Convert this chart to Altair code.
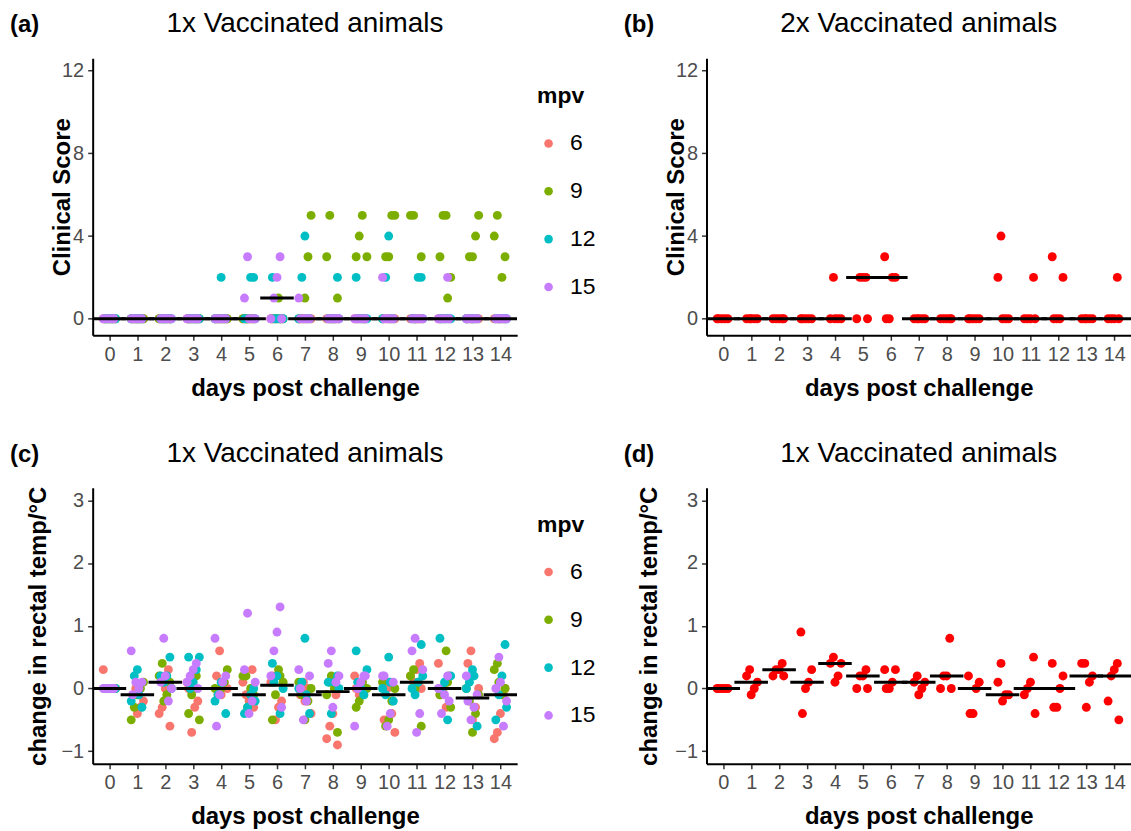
import altair as alt
import pandas as pd

DAYS = list(range(15))
GROUPS = ["6", "9", "12", "15"]
COLORS = ["#F8766D", "#7CAE00", "#00BFC4", "#C77CFF"]

# ---- (a) clinical score, 1x vaccinated: non-zero scores per day (rest of the 5 animals are 0)
SCORE_1X_NONZERO = {
    "6":  {},
    "9":  {6: [1], 7: [5, 3, 1], 8: [5, 3, 1], 9: [5, 4, 3, 3], 10: [5, 5, 3, 3],
           11: [5, 5, 3], 12: [5, 5, 3, 2, 1], 13: [5, 4, 3, 3], 14: [5, 4, 3, 2]},
    "12": {4: [2], 5: [2, 2], 6: [2], 7: [4, 2], 8: [2], 9: [2], 10: [4, 2], 11: [2, 2]},
    "15": {5: [3, 1], 6: [3, 2, 1], 7: [1], 10: [2], 12: [2]},
}
MEDIAN_A = [0, 0, 0, 0, 0, 0, 1, 0, 0, 0, 0, 0, 0, 0, 0]

# ---- (b) clinical score, 2x vaccinated (5 animals per day)
SCORE_2X = [
    [0, 0, 0, 0, 0], [0, 0, 0, 0, 0], [0, 0, 0, 0, 0], [0, 0, 0, 0, 0],
    [2, 0, 0, 0, 0], [2, 2, 2, 0, 0], [3, 2, 2, 0, 0], [0, 0, 0, 0, 0],
    [0, 0, 0, 0, 0], [0, 0, 0, 0, 0], [4, 2, 0, 0, 0], [2, 0, 0, 0, 0],
    [3, 2, 0, 0, 0], [0, 0, 0, 0, 0], [2, 0, 0, 0, 0],
]
MEDIAN_B = [0, 0, 0, 0, 0, 2, 2, 0, 0, 0, 0, 0, 0, 0, 0]

# ---- (c) change in rectal temperature, 1x vaccinated, per mpv group (5 animals per day)
TEMP_1X = {
    "6": [
        [0.3, 0, 0, 0, 0], [0, -0.1, -0.2, -0.3, -0.4], [0.3, 0, -0.3, -0.4, -0.6],
        [0.1, -0.2, -0.3, -0.7, 0], [0.6, 0.2, 0, 0.1, -0.1], [0.3, -0.2, -0.1, 0.1, -0.3],
        [0.1, -0.2, -0.3, -0.5, 0.2], [0.1, -0.1, -0.4, 0, -0.2], [-0.1, -0.4, -0.6, -0.8, -0.9],
        [0.2, 0, 0.1, -0.1, 0], [0, -0.5, -0.7, -0.4, 0.1], [0.4, 0.3, 0.1, 0.2, 0],
        [0.4, 0.2, -0.3, 0, -0.1], [0.6, 0.4, 0, -0.3, -0.5], [-0.1, -0.4, -0.7, -0.8, 0],
    ],
    "9": [
        [0, 0, 0, 0, 0], [0.1, 0, -0.1, -0.3, -0.5], [0.4, 0.2, 0.1, -0.1, -0.2],
        [0, -0.1, -0.4, -0.5, 0.2], [0.3, 0.1, 0, -0.1, 0], [0.2, 0.2, -0.1, 0, -0.3],
        [0.3, -0.1, -0.5, 0.1, 0.2], [0, -0.2, -0.5, -0.1, 0.1], [0.1, -0.1, -0.7, 0, 0.2],
        [0.1, -0.2, -0.3, 0, -0.1], [0, -0.2, -0.5, -0.6, 0.1], [0.3, 0.2, -0.6, 0.1, 0],
        [0.6, 0, -0.1, -0.3, 0.1], [-0.1, -0.4, -0.7, -0.2, 0], [0.4, 0.3, 0, -0.1, 0.1],
    ],
    "12": [
        [0, 0, 0, 0, 0], [0.3, 0.2, -0.2, -0.3, -0.1], [0.5, 0.2, 0.1, 0.2, 0],
        [0.5, 0.5, 0.3, 0.1, 0], [0.1, -0.1, -0.2, -0.4, 0.1], [0, -0.1, -0.3, -0.4, -0.2],
        [0.4, 0, -0.4, 0.2, 0.1], [0.8, 0.1, 0, -0.4, -0.1], [0.2, 0.1, -0.4, 0.1, 0],
        [0.6, 0.3, -0.1, 0, 0.1], [0.5, -0.1, 0, -0.2, 0.1], [0.7, 0.1, -0.1, 0, 0.2],
        [0.8, 0.2, -0.5, 0.1, 0], [0.3, 0.1, 0, -0.6, 0.2], [0.7, 0.2, -0.1, -0.5, -0.3],
    ],
    "15": [
        [0, 0, 0, 0, 0], [0.6, 0.1, 0, 0.1, -0.1], [0.8, 0.1, 0, -0.2, 0.2],
        [0.4, 0.3, 0.2, 0.1, 0], [0.8, 0.2, 0.1, -0.1, -0.6], [1.2, 0.3, 0.1, -0.2, -0.4],
        [1.3, 0.9, 0.6, 0.2, -0.3], [0.3, 0.2, -0.2, -0.5, 0], [0.6, 0.4, 0.2, 0.1, -0.3],
        [0.2, 0.1, 0, -0.6, 0.2], [0.2, 0.1, -0.4, -0.6, 0.2], [0.8, 0.6, 0.3, -0.4, -0.7],
        [0.2, -0.1, -0.4, 0, -0.2], [0.2, -0.1, -0.3, -0.5, -0.2], [0.5, 0, -0.2, -0.6, 0.1],
    ],
}
MEDIAN_C = [0, -0.1, 0.1, 0, 0, -0.1, 0.05, -0.1, -0.05, 0, -0.1, 0.1, 0, -0.15, -0.1]

# ---- (d) change in rectal temperature (5 animals per day)
TEMP_2X = [
    [0, 0, 0, 0, 0], [0.3, 0.2, 0.1, 0, -0.1], [0.4, 0.3, 0.3, 0.2, 0.2],
    [0.9, 0.3, 0.1, 0, -0.4], [0.5, 0.4, 0.4, 0.2, 0.1], [0.3, 0.2, 0.2, 0, 0],
    [0.3, 0.3, 0.1, 0, 0], [0.2, 0.1, 0.1, 0, -0.1], [0.8, 0.2, 0.2, 0, 0],
    [0.2, 0.1, 0, -0.4, -0.4], [0.4, 0.1, -0.1, -0.1, -0.2], [0.5, 0.1, 0, -0.1, -0.4],
    [0.4, 0.2, 0, -0.3, -0.3], [0.4, 0.4, 0.2, 0.1, -0.3], [0.4, 0.3, 0.2, -0.2, -0.5],
]
MEDIAN_D = [0, 0.1, 0.3, 0.1, 0.4, 0.2, 0.1, 0.1, 0.2, 0, -0.1, 0, 0, 0.2, 0.2]

# ---------------- tables ----------------
rows = []
for gi, g in enumerate(GROUPS):
    for d in DAYS:
        nz = SCORE_1X_NONZERO[g].get(d, [])
        vals = nz + [0] * (5 - len(nz))
        for a, v in enumerate(vals):
            rows.append({"day": d, "value": v, "mpv": g, "g": gi, "animal": a})
df_a = pd.DataFrame(rows)

df_b = pd.DataFrame([{"day": d, "value": v, "mpv": "x", "g": 0, "animal": a}
                     for d in DAYS for a, v in enumerate(SCORE_2X[d])])

rows = []
for gi, g in enumerate(GROUPS):
    for d in DAYS:
        for a, v in enumerate(TEMP_1X[g][d]):
            rows.append({"day": d, "value": v, "mpv": g, "g": gi, "animal": a})
df_c = pd.DataFrame(rows)

df_d = pd.DataFrame([{"day": d, "value": v, "mpv": "x", "g": 0, "animal": a}
                     for d in DAYS for a, v in enumerate(TEMP_2X[d])])

W = 426
FONT = "Liberation Sans"
JITTER = "datum.day + ((((datum.animal * 7 + datum.day * 3 + datum.g * 5) % 9) - 4) * 0.055)"


def panel(df, med, ydom, yvals, ytitle, title, tag, H, colored, title_x, legend_y):
    xs = alt.Scale(domain=[-0.6, 14.6], nice=False, zero=False)
    ys = alt.Scale(domain=ydom, nice=False, zero=False)
    xaxis = alt.Axis(values=DAYS, format="d", title="days post challenge",
                     labelOverlap=False, labelFlush=False, labelBound=False)
    yaxis = alt.Axis(values=yvals, format="d", title=ytitle, titleX=title_x,
                     titleY=H / 2, titleBaseline="alphabetic", titleAngle=270,
                     labelOverlap=False, labelFlush=False)
    if colored:
        color = alt.Color("mpv:N", scale=alt.Scale(domain=GROUPS, range=COLORS),
                          legend=alt.Legend(title="mpv", orient="none", legendX=W + 20,
                                            legendY=legend_y, titleFontSize=23,
                                            titleFontWeight="bold", labelFontSize=23,
                                            titleFont=FONT, labelFont=FONT,
                                            symbolType="circle", symbolSize=75,
                                            symbolStrokeWidth=0, rowPadding=24,
                                            titlePadding=24, labelOffset=10,
                                            labelColor="black", titleColor="black"))
    else:
        color = alt.value("#FF0000")
    pts = alt.Chart(df).transform_calculate(xj=JITTER).mark_circle(
        size=80, opacity=1).encode(
        x=alt.X("xj:Q", scale=xs, axis=xaxis),
        y=alt.Y("value:Q", scale=ys, axis=yaxis),
        color=color,
    )
    mdf = pd.DataFrame({"day": DAYS, "median": med})
    rule = alt.Chart(mdf).transform_calculate(
        x1="datum.day - 0.6", x2="datum.day + 0.6").mark_rule(
        color="black", strokeWidth=3, clip=True).encode(
        x=alt.X("x1:Q", scale=xs, axis=xaxis), x2="x2:Q",
        y=alt.Y("median:Q", scale=ys, axis=yaxis))
    tdf = pd.DataFrame({"tag": [tag], "title": [title]})
    ttl = alt.Chart(tdf).mark_text(fontSize=28, font=FONT, color="black",
                                   align="center", baseline="alphabetic").encode(
        x=alt.value(W / 2), y=alt.value(-26), text="title:N")
    tg = alt.Chart(tdf).mark_text(fontSize=24, font=FONT, fontWeight="bold", color="black",
                                  align="left", baseline="alphabetic").encode(
        x=alt.value(-83), y=alt.value(-26), text="tag:N")
    return alt.layer(pts, rule, ttl, tg).properties(width=W, height=H)


pa = panel(df_a, MEDIAN_A, [-0.8, 12.6], [0, 4, 8, 12], "Clinical Score",
           "1x Vaccinated animals", "(a)", 278, True, -23, 27)
pb = panel(df_b, MEDIAN_B, [-0.8, 12.6], [0, 4, 8, 12], "Clinical Score",
           "2x Vaccinated animals", "(b)", 278, False, -23, 27)
pc = panel(df_c, MEDIAN_C, [-1.2, 3.2], [-1, 0, 1, 2, 3], "change in rectal temp/°C",
           "1x Vaccinated animals", "(c)", 277, True, -47, 26)
pd_ = panel(df_d, MEDIAN_D, [-1.2, 3.2], [-1, 0, 1, 2, 3], "change in rectal temp/°C",
            "1x Vaccinated animals", "(d)", 277, False, -50, 26)

top = alt.hconcat(pa, pb, spacing=28).resolve_scale(color="independent").resolve_legend(color="independent")
bottom = alt.hconcat(pc, pd_, spacing=28).resolve_scale(color="independent").resolve_legend(color="independent")

chart = alt.vconcat(top, bottom, spacing=40).resolve_scale(
    color="independent").resolve_legend(color="independent").properties(
    padding={"left": 10, "top": 9, "right": 0, "bottom": 0}
).configure_view(stroke=None).configure_axis(
    grid=False, domainColor="black", domainWidth=2, tickColor="#333333", tickWidth=1.5,
    tickSize=5, labelColor="#4D4D4D", labelFontSize=20, labelFont=FONT, labelPadding=4,
    labelOverlap=False, labelFlush=False,
    titleFont=FONT, titleFontSize=24, titleFontWeight="bold", titleColor="black",
    titlePadding=12,
)

chart.save("out.html", embed_options={"renderer": "svg", "actions": False})
